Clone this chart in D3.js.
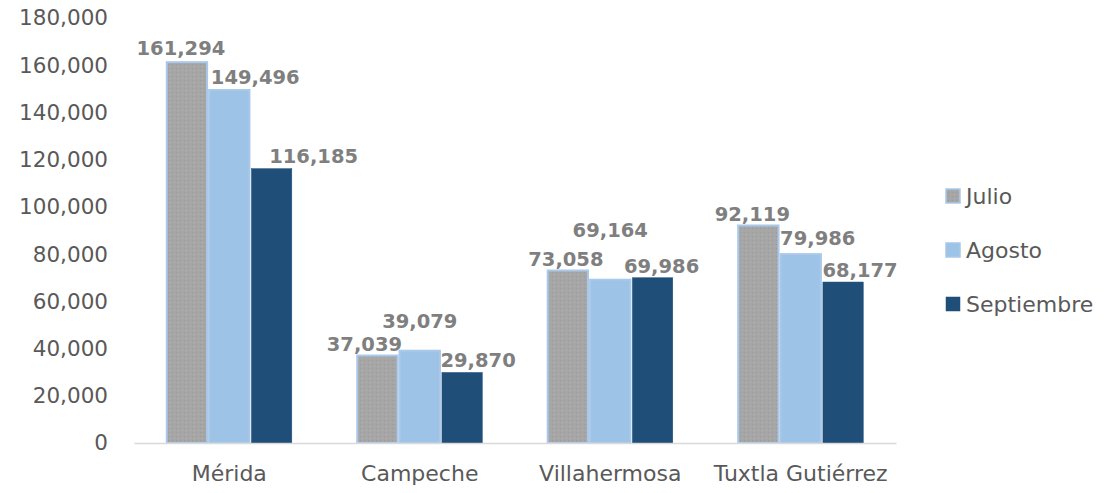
<!DOCTYPE html>
<html><head><meta charset="utf-8">
<script src="https://cdn.jsdelivr.net/npm/d3@7"></script>
<style>body{margin:0;background:#fff}svg{display:block}</style>
</head><body>
<svg id="chart" width="1105" height="493"></svg>
<script>
const categories = ["Mérida", "Campeche", "Villahermosa", "Tuxtla Gutiérrez"];
const seriesNames = ["Julio", "Agosto", "Septiembre"];
const julio = [161294, 37039, 73058, 92119];
const agosto = [149496, 39079, 69164, 79986];
const septiembre = [116185, 29870, 69986, 68177];
const yTicks = [0, 20000, 40000, 60000, 80000, 100000, 120000, 140000, 160000, 180000];

// layout-only: manual label offsets (dx from bar centre, dy from bar top) per series per category
const labelOffsets = [
  [[-6,-7],[-13,-5],[-2,-5],[-6,-4]],
  [[26,-6],[0,-23],[0,-43],[17,-9]],
  [[42,-6],[16,-5],[9,-5],[17,-5]]
];

const series = [julio, agosto, septiembre];
const fills = ["url(#dots)", "#9dc3e6", "#1f4e79"];
const strokes = ["#a9c8ea", "#a9c8ea", "#1f4e79"];
const legendFills = ["url(#dots)", "#9dc3e6", "#1f4e79"];

const svg = d3.select("#chart");
const defs = svg.append("defs");
const pat = defs.append("pattern").attr("id","dots").attr("patternUnits","userSpaceOnUse")
  .attr("width",4).attr("height",4);
pat.append("rect").attr("width",4).attr("height",4).attr("fill","#a6a6a6");
pat.append("rect").attr("x",0).attr("y",0).attr("width",1).attr("height",1).attr("fill","#9a9a9a");
pat.append("rect").attr("x",2).attr("y",2).attr("width",1).attr("height",1).attr("fill","#b0b0b0");

const x0 = d3.scaleBand().domain(categories).range([134, 896]).paddingInner(0.333).paddingOuter(0.1667);
const x1 = d3.scaleBand().domain(seriesNames).range([0, x0.bandwidth()]);
const y = d3.scaleLinear().domain([0, 180000]).range([443, 18]);

const font = "'DejaVu Sans', sans-serif";

// y axis labels
const yAxis = d3.axisLeft(y).tickValues(yTicks).tickSize(0).tickPadding(0).tickFormat(d3.format(","));
const yg = svg.append("g").attr("transform","translate(108,0)").call(yAxis);
yg.select(".domain").remove();
yg.selectAll("text").attr("font-family",font).attr("font-size",21.5).attr("fill","#595959");

// bars
seriesNames.forEach((s, si) => {
  svg.append("g").selectAll("rect").data(series[si]).join("rect")
    .attr("x", (d,i) => x0(categories[i]) + x1(s) + 1)
    .attr("y", d => y(d))
    .attr("width", x1.bandwidth() - 2)
    .attr("height", d => y(0) - y(d))
    .attr("fill", fills[si])
    .attr("stroke", strokes[si])
    .attr("stroke-width", si < 2 ? 2 : 0.5);
});

// x axis
const xAxis = d3.axisBottom(x0).tickSize(0).tickPadding(0);
const xg = svg.append("g").attr("transform","translate(0,443)").call(xAxis);
xg.select(".domain").attr("stroke","#d9d9d9").attr("stroke-width",1.5);
xg.selectAll("text").attr("font-family",font).attr("font-size",22).attr("fill","#595959")
  .attr("dy",0).attr("y",38);

// data labels
seriesNames.forEach((s, si) => {
  svg.append("g").selectAll("text").data(series[si]).join("text")
    .attr("x", (d,i) => x0(categories[i]) + x1(s) + x1.bandwidth()/2 + labelOffsets[si][i][0])
    .attr("y", (d,i) => y(d) + labelOffsets[si][i][1])
    .attr("text-anchor","middle")
    .attr("font-family",font).attr("font-weight","bold").attr("font-size",19.5)
    .attr("fill","#7f7f7f")
    .text(d => d3.format(",")(d));
});

// legend
const lg = svg.append("g");
seriesNames.forEach((s, si) => {
  const cy = 196 + si*54;
  lg.append("rect").attr("x",946).attr("y",cy-7).attr("width",14).attr("height",14)
    .attr("fill",legendFills[si]).attr("stroke",strokes[si]).attr("stroke-width", si<2?1.5:0.5);
  lg.append("text").attr("x",966).attr("y",cy).attr("dy","0.35em")
    .attr("font-family",font).attr("font-size",22).attr("fill","#595959").text(s);
});
</script>
</body></html>
